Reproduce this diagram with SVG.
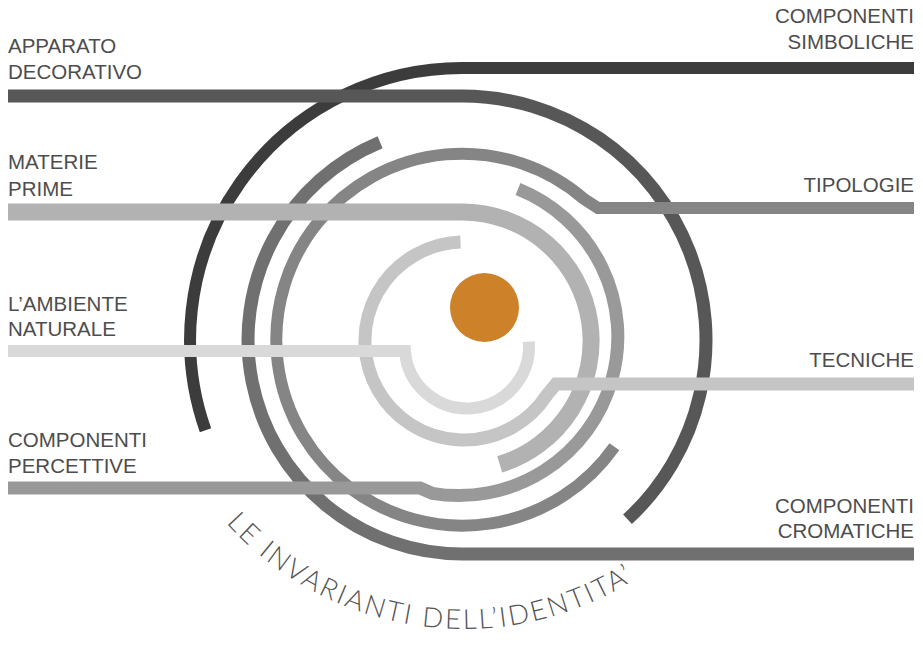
<svg xmlns="http://www.w3.org/2000/svg" width="923" height="645" viewBox="0 0 923 645">
<style>
.lbl{font-family:"Liberation Sans",Arial,sans-serif;font-size:20.5px;fill:#4d4d4d}
.r{text-anchor:end}
.ring{fill:none;stroke-linecap:butt;stroke-linejoin:miter}
.title{font-family:"Lato","Open Sans","Liberation Sans",sans-serif;font-weight:300;font-size:27.5px;fill:#555;letter-spacing:2.3px}
</style>
<defs>
<path id="tp" d="M 226.2 523.1 A 320 320 0 0 0 647.5 571.1"/>
</defs>
<rect width="923" height="645" fill="#fff"/>
<g id="connectors">
<path id="c-simboliche" class="ring" stroke="#3c3c3c" stroke-width="12" d="M 914 68 H 462 A 272 272 0 0 0 205.5 430.3"/>
<path id="c-apparato" class="ring" stroke="#575757" stroke-width="13" d="M 8 96 H 462 A 244 244 0 0 1 627.5 519.3"/>
<path id="c-cromatiche" class="ring" stroke="#707070" stroke-width="13" d="M 380.1 142.3 A 214 214 0 0 0 462 554 H 914"/>
<path id="c-tipologie" class="ring" stroke="#858585" stroke-width="12" d="M 914 208 H 598 L 584 199 A 186 186 0 1 0 614.4 446.7"/>
<path id="c-percettive" class="ring" stroke="#999" stroke-width="13" d="M 8 488 H 420 L 432 493.3 A 159 159 0 0 0 518 189"/>
<path id="c-materie" class="ring" stroke="#b2b2b2" stroke-width="17" d="M 8 212 H 462 A 129 129 0 0 1 499.7 464.4"/>
<path id="c-tecniche" class="ring" stroke="#c5c5c5" stroke-width="13" d="M 460.5 242.1 A 99 99 0 1 0 547 394.9 L 556 384 H 914"/>
<path id="c-ambiente" class="ring" stroke="#d9d9d9" stroke-width="12" d="M 8 351 H 405 A 62 62 0 1 0 528.8 341.6"/>
</g>
<g id="core"><circle cx="484.5" cy="307.5" r="34.5" fill="#cd8229"/></g>
<g id="n-apparato"><text class="lbl" x="8" y="53">APPARATO</text><text class="lbl" x="8" y="79">DECORATIVO</text></g>
<g id="n-materie"><text class="lbl" x="8" y="169">MATERIE</text><text class="lbl" x="8" y="195.5">PRIME</text></g>
<g id="n-ambiente"><text class="lbl" x="8" y="310.5">L’AMBIENTE</text><text class="lbl" x="8" y="336">NATURALE</text></g>
<g id="n-percettive"><text class="lbl" x="8" y="446.5">COMPONENTI</text><text class="lbl" x="8" y="472.5">PERCETTIVE</text></g>
<g id="n-simboliche"><text class="lbl r" x="914" y="23">COMPONENTI</text><text class="lbl r" x="914" y="49">SIMBOLICHE</text></g>
<g id="n-tipologie"><text class="lbl r" x="914" y="192">TIPOLOGIE</text></g>
<g id="n-tecniche"><text class="lbl r" x="914" y="367">TECNICHE</text></g>
<g id="n-cromatiche"><text class="lbl r" x="914" y="513">COMPONENTI</text><text class="lbl r" x="914" y="538">CROMATICHE</text></g>
<g id="n-title"><text class="title"><textPath href="#tp">LE INVARIANTI DELL’IDENTITA’</textPath></text></g>
</svg>
